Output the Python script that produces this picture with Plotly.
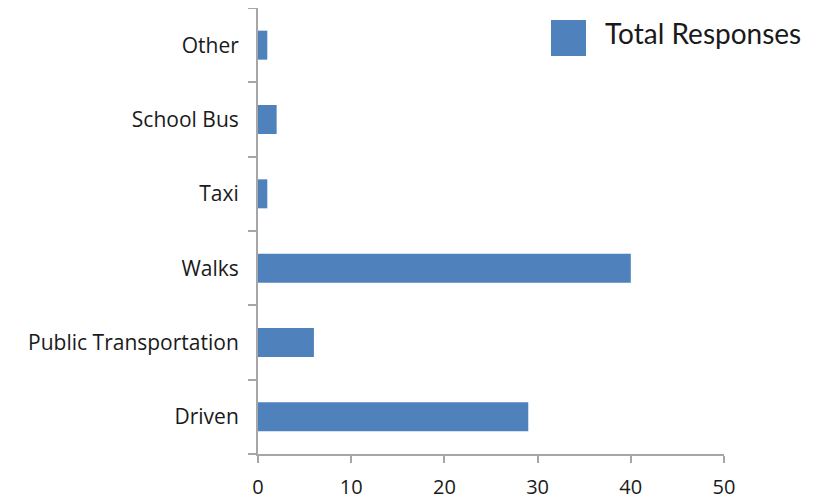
import plotly.graph_objects as go

categories = ["Driven", "Public Transportation", "Walks", "Taxi", "School Bus", "Other"]
values = [29, 6, 40, 1, 2, 1]
series_name = "Total Responses"
x_ticks = [0, 10, 20, 30, 40, 50]

bar_color = "#4f81bd"
axis_color = "#a6a6a6"

# page body has an 8px default margin, so the figure is offset by 8px
fig = go.Figure()
fig.add_trace(go.Bar(
    y=categories, x=values, orientation="h", name=series_name,
    marker=dict(color=bar_color, line=dict(width=0)),
    width=0.39, showlegend=False,
))

fig.update_layout(
    width=818, height=500,
    margin=dict(l=250, r=102, t=0, b=54),
    plot_bgcolor="white", paper_bgcolor="white",
    font=dict(family="Open Sans, sans-serif", size=20, color="#1a1a1a"),
)
fig.update_xaxes(
    range=[0, 50], tickvals=x_ticks, showgrid=False, zeroline=False,
    showline=True, linecolor=axis_color, linewidth=2,
    ticks="outside", ticklen=7, tickwidth=2, tickcolor=axis_color,
    tickfont=dict(size=20, family="Open Sans, sans-serif"),
    ticklabelstandoff=7, automargin=False,
)
fig.update_yaxes(
    categoryorder="array", categoryarray=categories,
    showgrid=False, zeroline=False,
    showline=True, linecolor=axis_color, linewidth=2,
    ticks="outside", ticklen=8, tickwidth=2, tickcolor=axis_color,
    tickson="boundaries", ticklabelstandoff=13,
    tickfont=dict(size=21, family="Open Sans, sans-serif"),
    automargin=False,
)

# legend drawn as a swatch + label
fig.add_shape(type="rect", xref="paper", yref="paper",
              x0=(551-258)/466, x1=(586-258)/466,
              y0=(454-56)/446, y1=(454-20)/446,
              fillcolor=bar_color, line=dict(width=0))
fig.add_annotation(xref="paper", yref="paper", x=(603-258)/466, y=(454-33)/446,
                   text=series_name, showarrow=False, xanchor="left", yanchor="middle",
                   font=dict(size=28, family="Lato, Open Sans, sans-serif", color="#1a1a1a"))

fig.write_html("out.html")
